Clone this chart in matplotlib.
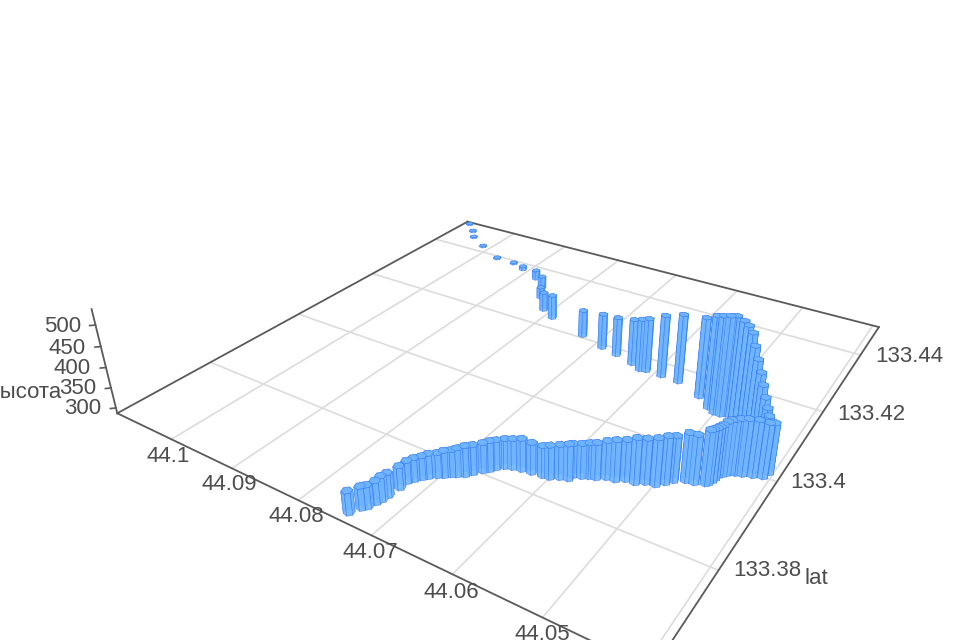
# track_bars.py
import numpy as np
import matplotlib
matplotlib.use('Agg')
import matplotlib.pyplot as plt
from mpl_toolkits.mplot3d.art3d import Poly3DCollection

lat = [133.3641,133.3657,133.3663,133.3676,133.3684,133.3695,133.3716,133.3732,133.3740,133.3749,
       133.3756,133.3764,133.3769,133.3776,133.3780,133.3786,133.3795,133.3806,133.3813,133.3821,
       133.3830,133.3834,133.3837,133.3839,133.3841,133.3843,133.3850,133.3854,133.3863,133.3868,
       133.3873,133.3876,133.3884,133.3886,133.3894,133.3895,133.3903,133.3906,133.3917,133.3927,
       133.3936,133.3938,133.3944,133.3948,133.3955,133.3962,133.3970,133.3975,133.3980,133.3985,
       133.3987,133.3990,133.3995,133.4000,133.4013,133.4019,133.4033,133.4043,133.4053,133.4063,
       133.4074,133.4082,133.4092,133.4101,133.4107,133.4114,133.4109,133.4109,133.4117,133.4138,
       133.4160,133.4162,133.4163,133.4160,133.4170,133.4182,133.4190,133.4208,133.4235,133.4253,
       133.4291,133.4327,133.4354,133.4375,133.4388,133.4390,133.4423,133.4451,133.4476,133.4504]
lon = [44.0742,44.0736,44.0732,44.0729,44.0727,44.0726,44.0724,44.0724,44.0720,44.0715,
       44.0710,44.0703,44.0697,44.0691,44.0686,44.0679,44.0674,44.0667,44.0662,44.0658,
       44.0651,44.0643,44.0633,44.0621,44.0608,44.0600,44.0591,44.0582,44.0581,44.0572,
       44.0565,44.0558,44.0549,44.0539,44.0530,44.0519,44.0510,44.0499,44.0492,44.0486,
       44.0475,44.0466,44.0455,44.0453,44.0451,44.0450,44.0449,44.0446,44.0443,44.0440,
       44.0435,44.0428,44.0418,44.0408,44.0405,44.0414,44.0420,44.0426,44.0433,44.0439,
       44.0447,44.0454,44.0461,44.0469,44.0476,44.0487,44.0493,44.0501,44.0511,44.0530,
       44.0566,44.0590,44.0612,44.0620,44.0635,44.0663,44.0688,44.0726,44.0788,44.0811,
       44.0835,44.0851,44.0875,44.0910,44.0934,44.0967,44.1013,44.1048,44.1064,44.1087]
alt = [337,337,337,337,342,340,338,336,338,338,
       341,341,346,346,350,355,353,353,355,353,
       353,355,360,357,357,362,364,368,362,364,
       366,369,373,380,380,391,389,395,395,391,
       398,398,411,411,409,407,405,410,412,410,
       414,416,416,412,403,408,411,423,440,457,
       474,495,514,520,523,524,524,520,510,482,
       457,441,421,417,402,385,376,355,349,335,
       316,319,311,296,290,290,290,290,290,290]

lat_ticks = [133.38, 133.40, 133.42, 133.44]
lat_labels = ['133.38', '133.4', '133.42', '133.44']
lon_ticks = [44.05, 44.06, 44.07, 44.08, 44.09, 44.10]
lon_labels = ['44.05', '44.06', '44.07', '44.08', '44.09', '44.1']
lon_grid = [44.04] + lon_ticks
alt_ticks = [300, 350, 400, 450, 500]
alt_labels = ['300', '350', '400', '450', '500']

lat_lim = (133.36234, 133.45143)
lon_lim = (44.03917, 44.10976)
alt_lim = (286.48, 536.18)

W, H = 960, 640
TEXT = '#4d4d4d'
AXIS = '#5a5a5a'
GRID = '#dcdcdc'

fig = plt.figure(figsize=(W/100, H/100), dpi=100)
ax = fig.add_axes([126.40/W, -80.07/H, 780.89/W, 780.89/H], projection='3d')
ax.view_init(28.28, -147.19, 0)
ax.set_proj_type('persp', focal_length=0.224)
ax.set_box_aspect((1, 0.9956, 0.1976))
ax.set_xlim(*lat_lim)
ax.set_ylim(*lon_lim)
ax.set_zlim(*alt_lim)
ax.set_axis_off()
ax.computed_zorder = False

z0 = alt_lim[0]

# Floor grid
for v in lat_ticks:
    ax.plot([v, v], lon_lim, [z0, z0], color=GRID, lw=1.2, zorder=1, clip_on=False)
for v in lon_grid:
    ax.plot(lat_lim, [v, v], [z0, z0], color=GRID, lw=1.2, zorder=1, clip_on=False)

# Floor edges and altitude axis
la0, la1 = lat_lim
lo0, lo1 = lon_lim
for xs, ys in [((la0, la1), (lo0, lo0)), ((la1, la1), (lo0, lo1)),
               ((la0, la1), (lo1, lo1)), ((la0, la0), (lo0, lo1))]:
    ax.plot(xs, ys, [z0, z0], color=AXIS, lw=1.3, zorder=2, clip_on=False)
ax.plot([la0, la0], [lo1, lo1], alt_lim, color=AXIS, lw=1.3, zorder=2, clip_on=False)
for v in alt_ticks:
    ax.plot([la0, la0 - 0.00055], [lo1, lo1 + 0.00044], [v, v], color=AXIS, lw=1.2,
            zorder=2, clip_on=False)

# Track bars as small six-sided columns standing on the floor
rlat, rlon = 0.00075, 0.0006
angles = np.linspace(0, 2*np.pi, 7)[:-1] + 0.3
faces = []
for la, lo, top in zip(lat, lon, alt):
    xs = la + rlat*np.cos(angles)
    ys = lo + rlon*np.sin(angles)
    for i in range(len(angles)):
        j = (i + 1) % len(angles)
        faces.append([(xs[i], ys[i], z0), (xs[j], ys[j], z0), (xs[j], ys[j], top), (xs[i], ys[i], top)])
    faces.append([(x, y, top) for x, y in zip(xs, ys)])
bars = Poly3DCollection(faces, facecolor=(0.44, 0.71, 1.0, 0.92), edgecolor=(0.2, 0.47, 0.95, 0.7),
                        linewidth=0.45, zsort='average', zorder=3)
ax.add_collection3d(bars)

# Tick labels and titles
def label(x, y, s, **kw):
    fig.text(x/W, 1 - y/H, s, color=TEXT, fontsize=16, family='Liberation Sans',
             ha=kw.get('ha', 'center'), va='center')

for (x, y), s in zip([(767, 571), (818, 483), (871, 414), (909, 357)], lat_labels):
    label(x, y, s)
for (x, y), s in zip([(542, 634), (451, 592), (370, 553), (296, 517), (229, 485), (168, 457)], lon_labels):
    label(x, y, s)
for (x, y), s in zip([(83, 409), (78, 389), (72, 369), (67, 348), (63, 327)], alt_labels):
    label(x, y, s)
label(62, 392, 'высота', ha='right')
label(816, 578, 'lat')

fig.savefig('out.png', dpi=100)
